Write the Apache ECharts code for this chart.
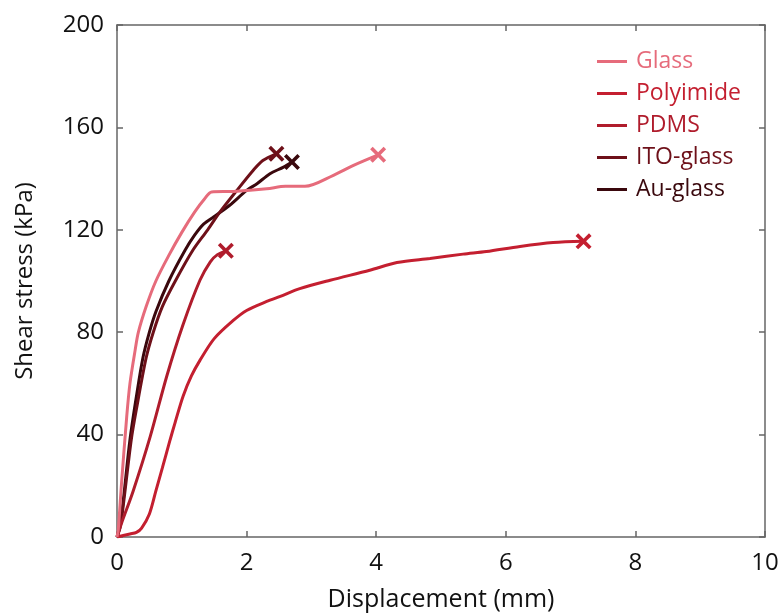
<!DOCTYPE html>
<html>
<head>
<meta charset="utf-8">
<script src="https://cdn.jsdelivr.net/npm/echarts@6/dist/echarts.min.js"></script>
<style>
  html, body { margin: 0; padding: 0; background: #fff; }
  #chart { width: 782px; height: 616px; }
</style>
</head>
<body>
<div id="chart"></div>
<script>
// displacement (mm) / shear stress (kPa)
const glass = [[0,0],[0.02,3],[0.07,21],[0.15,47],[0.2,60],[0.28,73],[0.33,80],[0.45,90],[0.6,100],[0.8,110],[1.0,119],[1.2,127],[1.35,132],[1.46,134.8],[1.8,135],[2.31,136],[2.6,137],[2.9,137],[3.34,141.3],[3.65,145.2],[4.03,149.3]]
const polyimide = [[0,0],[0.2,1.2],[0.3,1.8],[0.38,3.5],[0.5,9],[0.6,18],[0.7,27],[0.82,38],[0.9,45],[1.02,55],[1.15,63],[1.28,69],[1.5,77.5],[1.79,84.5],[2.0,88.5],[2.31,92],[2.52,94],[2.82,97],[3.29,100.3],[3.9,104.2],[4.32,107.2],[4.83,108.8],[5.34,110.5],[5.7,111.5],[6.22,113.5],[6.73,115],[7.2,115.5]]
const pdms = [[0,0],[0.07,5.4],[0.25,18],[0.51,39],[0.77,63],[1.02,83],[1.28,100.3],[1.44,107.5],[1.55,110.3],[1.68,111.8]]
const itoGlass = [[0,0],[0.05,4],[0.1,13],[0.22,38],[0.3,50],[0.45,70],[0.56,80],[0.7,90],[0.9,100],[1.17,112],[1.4,120],[1.59,127],[1.85,135.4],[2.10,143.2],[2.25,147.1],[2.46,149.7]]
const auGlass = [[0,0],[0.05,5],[0.1,15],[0.2,38],[0.3,55],[0.4,70],[0.5,80],[0.6,88],[0.8,100],[1.05,112],[1.2,118],[1.34,122.3],[1.49,125],[1.74,129.6],[2.0,135.4],[2.16,138],[2.36,141.9],[2.57,144.5],[2.70,146.5]]

const names = ['Glass', 'Polyimide', 'PDMS', 'ITO-glass', 'Au-glass']
const colors = ['#e66b7b', '#c41f30', '#b01c2c', '#6e1019', '#3a080d']
const allData = [glass, polyimide, pdms, itoGlass, auGlass]

const xTicks = { min: 0, max: 10, interval: 2 }
const yTicks = { min: 0, max: 200, interval: 40 }

// cross marker drawn at the end of each curve
const cross = 'path://M0,1.6L1.6,0L5,3.4L8.4,0L10,1.6L6.6,5L10,8.4L8.4,10L5,6.6L1.6,10L0,8.4L3.4,5Z'

const chart = echarts.init(document.getElementById('chart'))

const font = '"Open Sans", "Noto Sans", sans-serif'
const axisLine = { show: true, onZero: false, lineStyle: { color: '#666', width: 1.5 } }
const tickIn = { show: true, inside: true, length: 6, lineStyle: { color: '#666', width: 1.5 } }

const series = allData.map((d, i) => ({
  name: names[i],
  type: 'line',
  data: d,
  showSymbol: true,
  symbol: cross,
  symbolSize: (val, params) => (params.dataIndex === d.length - 1 ? 16 : 0),
  itemStyle: { color: colors[i] },
  lineStyle: { color: colors[i], width: 3 },
  smooth: 0.3,
  z: 10 - i,
  animation: false
}))

const option = {
  backgroundColor: '#fff',
  textStyle: { fontFamily: font },
  grid: { left: 117, right: 17, top: 25, bottom: 79, outerBoundsMode: 'none', containLabel: false },
  legend: {
    orient: 'vertical',
    left: 592,
    top: 45,
    itemGap: 9,
    itemWidth: 30,
    itemHeight: 3,
    icon: 'rect',
    textStyle: { fontSize: 23, fontFamily: font, padding: [0, 0, 0, 4] },
    data: names.map((n, i) => ({ name: n, textStyle: { color: colors[i] } }))
  },
  xAxis: [
    {
      type: 'value',
      min: xTicks.min, max: xTicks.max, interval: xTicks.interval,
      name: 'Displacement (mm)',
      nameLocation: 'middle',
      nameGap: 50,
      nameTextStyle: { fontSize: 25, color: '#111', fontFamily: font },
      axisLine: axisLine,
      axisTick: tickIn,
      splitLine: { show: false },
      axisLabel: { fontSize: 24, color: '#111', margin: 14, fontFamily: font }
    },
    {
      type: 'value',
      position: 'top',
      min: xTicks.min, max: xTicks.max, interval: xTicks.interval,
      axisLine: axisLine,
      axisTick: tickIn,
      splitLine: { show: false },
      axisLabel: { show: false }
    }
  ],
  yAxis: [
    {
      type: 'value',
      min: yTicks.min, max: yTicks.max, interval: yTicks.interval,
      name: 'Shear stress (kPa)',
      nameLocation: 'middle',
      nameGap: 80,
      nameTextStyle: { fontSize: 24, color: '#111', fontFamily: font },
      axisLine: axisLine,
      axisTick: tickIn,
      splitLine: { show: false },
      axisLabel: { fontSize: 24, color: '#111', margin: 13, fontFamily: font }
    },
    {
      type: 'value',
      position: 'right',
      min: yTicks.min, max: yTicks.max, interval: yTicks.interval,
      axisLine: axisLine,
      axisTick: tickIn,
      splitLine: { show: false },
      axisLabel: { show: false }
    }
  ],
  series: series
}

chart.setOption(option)
</script>
</body>
</html>
